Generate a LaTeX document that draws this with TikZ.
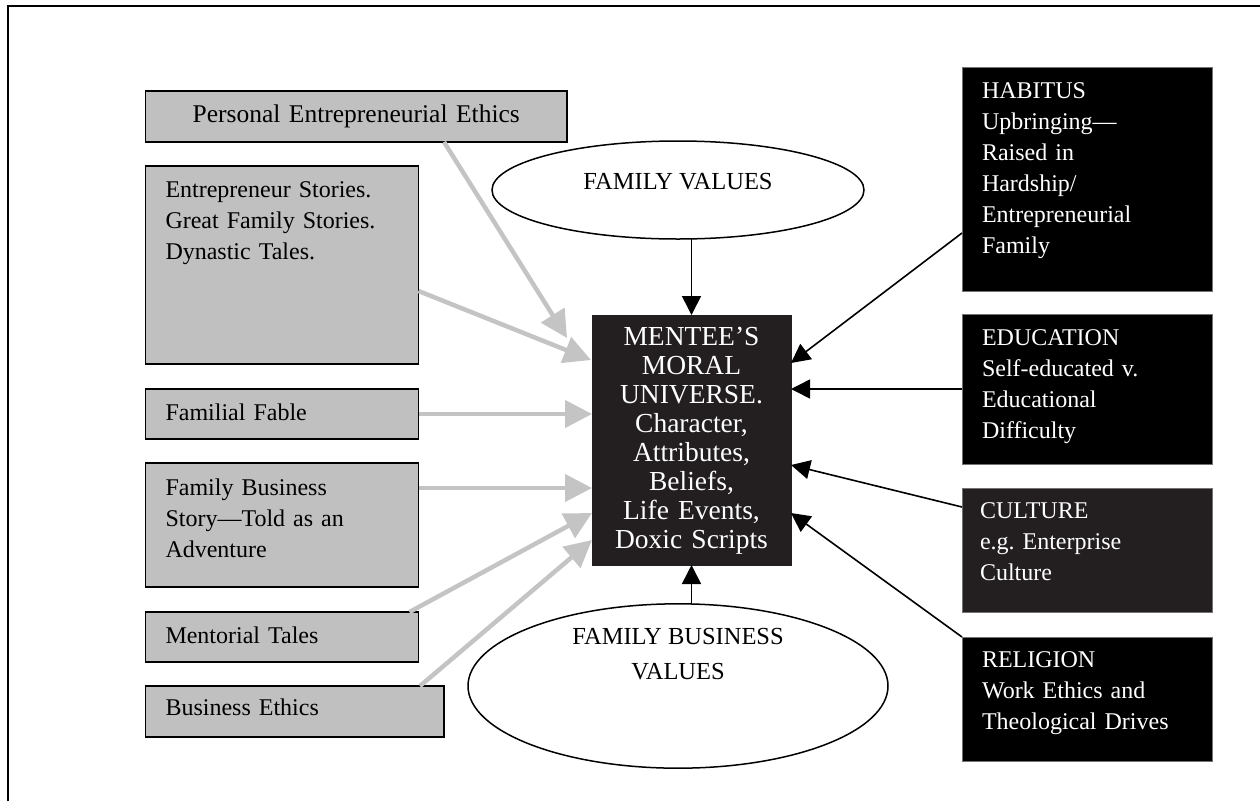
\documentclass[tikz,border=0pt]{standalone}
\usepackage{fontspec}
\setmainfont{Liberation Serif}
\usepackage{tikz}
\usetikzlibrary{arrows.meta, shapes.geometric}
\definecolor{boxgrey}{RGB}{192,192,192}
\definecolor{arrowgrey}{RGB}{196,196,196}
\definecolor{coal}{RGB}{35,31,32}
\tikzset{
  textbox/.style = {anchor=north west, align=left, inner xsep=20pt,
    inner ysep=0pt, outer sep=0pt, font=\fontsize{24}{31}\selectfont},
  storybox/.style = {textbox, fill=boxgrey, draw=black, line width=1.5pt,
    text width=233pt},
  forcebox/.style = {textbox, fill=black, draw=black!55, line width=1pt,
    text=white, text width=210pt},
  moralbox/.style = {anchor=north west, align=center, inner xsep=4pt,
    inner ysep=0pt, outer sep=0pt, fill=coal, draw=coal, text=white,
    text width=191pt, font=\fontsize{27.5}{29}\selectfont},
  valueell/.style = {ellipse, draw=black, line width=1.5pt, fill=white,
    align=center, inner sep=0pt, outer sep=0pt,
    font=\fontsize{24.5}{35}\selectfont},
  feed/.style = {draw=arrowgrey, line width=4.5pt,
    -{Triangle[length=27pt, width=27pt]}},
  push/.style = {draw=black, line width=1.6pt,
    -{Triangle[length=19pt, width=19pt]}}
}
\begin{document}
\begin{tikzpicture}[x=1pt, y=-1pt]
\useasboundingbox (0,0) rectangle (1260,801);
\draw[line width=2pt] (8,801) -- (8,6) -- (1260,6);

\node[storybox, text width=381.5pt, align=center, text height=31pt, text depth=20pt,
  font=\fontsize{25.5}{31}\selectfont]
  (personal) at (145.5,91) {Personal Entrepreneurial Ethics};
\node[storybox, text height=31pt, text depth=167pt] (stories) at (145.5,166)
  {Entrepreneur Stories.\\Great Family Stories.\\Dynastic Tales.};
\node[storybox, text height=31pt, text depth=19pt] (fable) at (145.5,389) {Familial Fable};
\node[storybox, text height=32pt, text depth=92pt] (fbstory) at (145.5,463)
  {Family Business\\Story—Told as an\\Adventure};
\node[storybox, text height=31pt, text depth=19pt] (mentorial) at (145.5,612) {Mentorial Tales};
\node[storybox, text width=258.5pt, text height=29pt, text depth=22pt]
  (bizethics) at (145.5,686) {Business Ethics};

\node[moralbox, text height=30pt, text depth=220pt] (mentee) at (592,315)
  {MENTEE’S\\MORAL\\UNIVERSE.\\Character,\\Attributes,\\Beliefs,\\Life Events,\\Doxic Scripts};

\node[valueell, minimum width=372pt, minimum height=98pt, text depth=18pt]
  (famvalues) at (678,190) {FAMILY VALUES};
\node[valueell, minimum width=420pt, minimum height=148pt, text depth=65pt]
  (fbvalues) at (678,686) {FAMILY BUSINESS\\VALUES};

\node[forcebox, text height=31pt, text depth=193pt] (habitus) at (962,67)
  {HABITUS\\Upbringing—\\Raised in\\Hardship/\\Entrepreneurial\\Family};
\node[forcebox, text height=31pt, text depth=119pt] (education) at (962,314)
  {EDUCATION\\Self-educated v.\\Educational\\Difficulty};
\node[forcebox, fill=coal, inner xsep=18pt, text width=214pt, text height=30pt, text depth=94pt]
  (culture) at (962,488) {CULTURE\\e.g.\ Enterprise\\Culture};
\node[forcebox, text height=30pt, text depth=94pt] (religion) at (962,637)
  {RELIGION\\Work Ethics and\\Theological Drives};

\draw[feed] ([shift={(298.5,0)}]personal.south west) -- ([shift={(-25,23)}]mentee.north west);
\draw[feed] ([shift={(0,26)}]stories.east) -- ([shift={(-1,45)}]mentee.north west);
\draw[feed] (fable.east) -- (fable.east -| mentee.west);
\draw[feed] ([shift={(0,25)}]fbstory.north east) -- ([shift={(0,173)}]mentee.north west);
\draw[feed] ([shift={(-9,0)}]mentorial.north east) -- ([shift={(0,-52)}]mentee.south west);
\draw[feed] ([shift={(-24,0)}]bizethics.north east) -- ([shift={(0,-25)}]mentee.south west);

\draw[push] (famvalues.south -| mentee.north) -- (mentee.north);
\draw[push] (fbvalues.north -| mentee.south) -- (mentee.south);
\draw[push] ([shift={(0,-58)}]habitus.south west) -- ([shift={(0,48)}]mentee.north east);
\draw[push] (education.west) -- (education.west -| mentee.east);
\draw[push] ([shift={(0,19)}]culture.north west) -- ([shift={(0,150)}]mentee.north east);
\draw[push] (religion.north west) -- ([shift={(0,-52)}]mentee.south east);
\end{tikzpicture}
\end{document}
